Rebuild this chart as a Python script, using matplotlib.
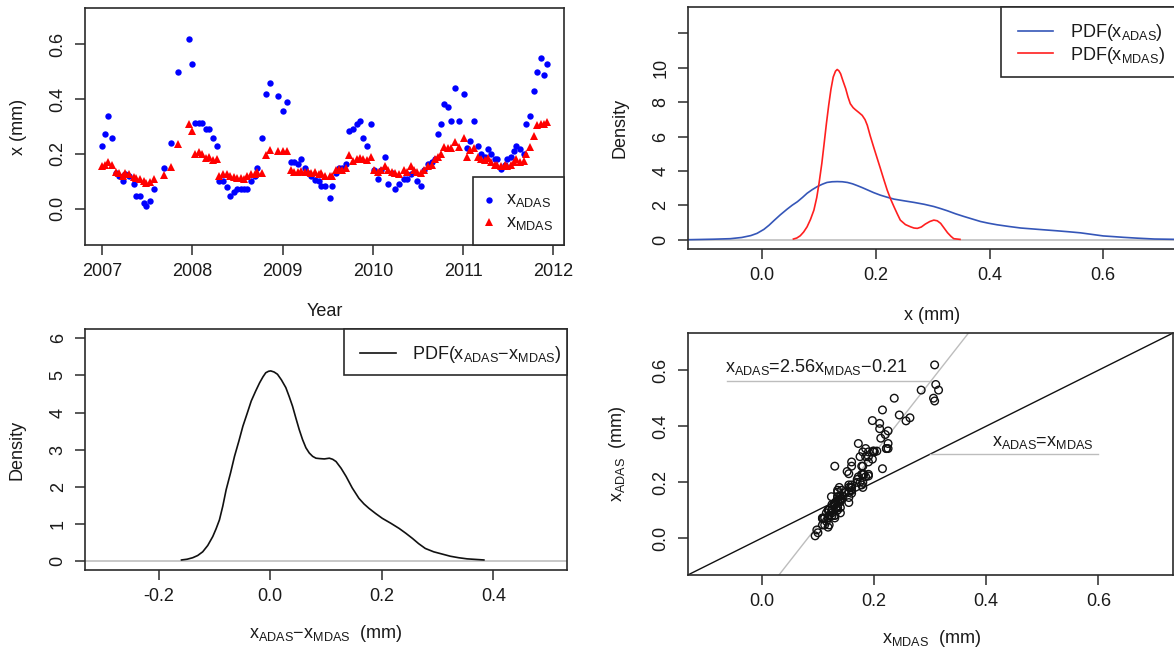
import matplotlib
matplotlib.use('Agg')
import matplotlib.pyplot as plt
from matplotlib.lines import Line2D
from matplotlib.patches import Rectangle

plt.rcParams['font.family'] = ['Liberation Sans', 'DejaVu Sans']
plt.rcParams['mathtext.fontset'] = 'custom'
plt.rcParams['mathtext.rm'] = 'Liberation Sans'
plt.rcParams['mathtext.it'] = 'Liberation Sans'
plt.rcParams['axes.unicode_minus'] = False
plt.rcParams['font.size'] = 13

# ---- time series (decimal year, ADAS, MDAS) ----
year = [2007.00, 2007.03, 2007.07, 2007.11, 2007.15, 2007.19, 2007.23, 2007.26, 2007.30, 2007.35,
        2007.38, 2007.42, 2007.46, 2007.49, 2007.53, 2007.58, 2007.69, 2007.76, 2007.84, 2007.96,
        2008.00, 2008.03, 2008.07, 2008.11, 2008.15, 2008.19, 2008.23, 2008.27, 2008.30, 2008.34,
        2008.38, 2008.42, 2008.46, 2008.50, 2008.54, 2008.57, 2008.61, 2008.65, 2008.69, 2008.72,
        2008.77, 2008.82, 2008.86, 2008.95, 2009.01, 2009.05, 2009.09, 2009.13, 2009.17, 2009.20,
        2009.25, 2009.28, 2009.32, 2009.36, 2009.40, 2009.43, 2009.47, 2009.52, 2009.55, 2009.59,
        2009.63, 2009.66, 2009.70, 2009.74, 2009.78, 2009.82, 2009.86, 2009.89, 2009.94, 2009.98,
        2010.01, 2010.06, 2010.09, 2010.13, 2010.17, 2010.21, 2010.25, 2010.29, 2010.34, 2010.38,
        2010.42, 2010.45, 2010.49, 2010.53, 2010.57, 2010.61, 2010.65, 2010.69, 2010.72, 2010.76,
        2010.79, 2010.83, 2010.87, 2010.91, 2010.95, 2011.01, 2011.04, 2011.08, 2011.12, 2011.16,
        2011.20, 2011.24, 2011.27, 2011.31, 2011.35, 2011.38, 2011.42, 2011.46, 2011.49, 2011.53,
        2011.56, 2011.59, 2011.63, 2011.67, 2011.70, 2011.74, 2011.78, 2011.82, 2011.86, 2011.90,
        2011.93]
x_adas = [0.230, 0.272, 0.338, 0.257, 0.130, 0.118, 0.100, 0.125, 0.120, 0.090,
          0.047, 0.047, 0.019, 0.008, 0.029, 0.070, 0.148, 0.238, 0.500, 0.619,
          0.529, 0.311, 0.311, 0.311, 0.291, 0.291, 0.257, 0.228, 0.100, 0.100,
          0.080, 0.047, 0.060, 0.070, 0.072, 0.072, 0.072, 0.100, 0.120, 0.147,
          0.257, 0.420, 0.458, 0.410, 0.357, 0.391, 0.171, 0.171, 0.164, 0.181,
          0.148, 0.130, 0.118, 0.106, 0.100, 0.081, 0.081, 0.039, 0.081, 0.130,
          0.150, 0.150, 0.164, 0.282, 0.291, 0.308, 0.320, 0.257, 0.228, 0.308,
          0.140, 0.109, 0.140, 0.190, 0.090, 0.130, 0.072, 0.090, 0.109, 0.109,
          0.127, 0.135, 0.100, 0.081, 0.140, 0.163, 0.170, 0.181, 0.272, 0.308,
          0.383, 0.370, 0.320, 0.440, 0.320, 0.419, 0.222, 0.248, 0.320, 0.228,
          0.199, 0.190, 0.219, 0.199, 0.180, 0.181, 0.145, 0.160, 0.181, 0.190,
          0.210, 0.228, 0.219, 0.200, 0.308, 0.338, 0.430, 0.500, 0.549, 0.490,
          0.529]
x_mdas = [0.155, 0.160, 0.172, 0.160, 0.135, 0.130, 0.120, 0.130, 0.125, 0.115,
          0.112, 0.108, 0.100, 0.095, 0.098, 0.108, 0.124, 0.152, 0.236, 0.308,
          0.284, 0.200, 0.205, 0.198, 0.185, 0.190, 0.178, 0.182, 0.118, 0.125,
          0.125, 0.120, 0.115, 0.110, 0.112, 0.108, 0.118, 0.125, 0.128, 0.135,
          0.130, 0.197, 0.215, 0.210, 0.212, 0.210, 0.142, 0.135, 0.135, 0.138,
          0.135, 0.132, 0.130, 0.132, 0.125, 0.130, 0.120, 0.118, 0.120, 0.140,
          0.145, 0.140, 0.150, 0.197, 0.175, 0.180, 0.185, 0.180, 0.178, 0.190,
          0.140, 0.135, 0.142, 0.155, 0.140, 0.135, 0.130, 0.125, 0.140, 0.135,
          0.155, 0.140, 0.135, 0.130, 0.140, 0.155, 0.160, 0.180, 0.190, 0.200,
          0.225, 0.220, 0.222, 0.245, 0.225, 0.257, 0.190, 0.215, 0.222, 0.190,
          0.180, 0.178, 0.185, 0.170, 0.160, 0.158, 0.155, 0.160, 0.155, 0.160,
          0.170, 0.180, 0.172, 0.175, 0.200, 0.225, 0.264, 0.306, 0.310, 0.308,
          0.315]

# ---- density curves ----
pdf_adas_x = [-0.131, -0.085, -0.056, -0.036, -0.020, -0.009, 0.003, 0.012, 0.021, 0.032,
              0.044, 0.053, 0.062, 0.071, 0.079, 0.088, 0.097, 0.106, 0.114, 0.123,
              0.132, 0.141, 0.150, 0.159, 0.167, 0.176, 0.185, 0.196, 0.208, 0.220,
              0.232, 0.250, 0.267, 0.285, 0.302, 0.314, 0.326, 0.340, 0.355, 0.370,
              0.384, 0.398, 0.413, 0.434, 0.455, 0.486, 0.518, 0.540, 0.560, 0.580,
              0.600, 0.618, 0.635, 0.660, 0.690, 0.730]
pdf_adas_y = [0.00, 0.03, 0.06, 0.13, 0.24, 0.37, 0.60, 0.84, 1.12, 1.45,
              1.78, 2.01, 2.21, 2.46, 2.70, 2.91, 3.09, 3.23, 3.33, 3.37,
              3.38, 3.37, 3.33, 3.25, 3.15, 3.03, 2.90, 2.74, 2.59, 2.47,
              2.36, 2.26, 2.17, 2.06, 1.93, 1.81, 1.68, 1.51, 1.35, 1.20,
              1.06, 0.96, 0.87, 0.77, 0.68, 0.60, 0.52, 0.46, 0.40, 0.31,
              0.22, 0.18, 0.14, 0.09, 0.04, 0.02]
pdf_mdas_x = [0.055, 0.061, 0.067, 0.073, 0.079, 0.085, 0.091, 0.096, 0.100, 0.105,
              0.109, 0.113, 0.117, 0.121, 0.125, 0.129, 0.132, 0.135, 0.138, 0.142,
              0.147, 0.151, 0.155, 0.160, 0.164, 0.170, 0.176, 0.181, 0.185, 0.190,
              0.196, 0.202, 0.208, 0.214, 0.220, 0.226, 0.232, 0.238, 0.243, 0.252,
              0.261, 0.267, 0.273, 0.280, 0.287, 0.295, 0.302, 0.308, 0.314, 0.320,
              0.326, 0.332, 0.337, 0.348]
pdf_mdas_y = [0.04, 0.10, 0.23, 0.45, 0.75, 1.18, 1.72, 2.45, 3.27, 4.45,
              5.59, 6.75, 7.81, 8.75, 9.46, 9.80, 9.90, 9.82, 9.65, 9.25,
              8.78, 8.30, 7.91, 7.68, 7.56, 7.40, 7.23, 6.98, 6.65, 6.05,
              5.40, 4.77, 4.14, 3.50, 2.88, 2.36, 1.91, 1.48, 1.14, 0.88,
              0.75, 0.68, 0.66, 0.74, 0.91, 1.06, 1.14, 1.10, 0.95, 0.68,
              0.41, 0.20, 0.06, 0.02]
pdf_diff_x = [-0.159, -0.149, -0.139, -0.130, -0.121, -0.112, -0.103, -0.097, -0.091, -0.085,
              -0.079, -0.071, -0.064, -0.056, -0.049, -0.041, -0.034, -0.026, -0.019, -0.013,
              -0.008, -0.003, 0.001, 0.007, 0.013, 0.020, 0.028, 0.034, 0.040, 0.046,
              0.052, 0.058, 0.064, 0.070, 0.076, 0.082, 0.088, 0.097, 0.106, 0.112,
              0.118, 0.127, 0.136, 0.147, 0.159, 0.168, 0.177, 0.189, 0.201, 0.216,
              0.231, 0.243, 0.255, 0.266, 0.278, 0.293, 0.308, 0.323, 0.338, 0.353,
              0.368, 0.383]
pdf_diff_y = [0.03, 0.05, 0.09, 0.15, 0.25, 0.42, 0.66, 0.87, 1.11, 1.48,
              1.92, 2.38, 2.82, 3.24, 3.63, 3.99, 4.31, 4.58, 4.80, 4.96,
              5.07, 5.11, 5.12, 5.09, 5.03, 4.88, 4.67, 4.43, 4.17, 3.85,
              3.54, 3.27, 3.05, 2.91, 2.82, 2.77, 2.76, 2.75, 2.77, 2.74,
              2.68, 2.50, 2.28, 1.97, 1.69, 1.54, 1.42, 1.28, 1.15, 1.02,
              0.88, 0.75, 0.61, 0.47, 0.34, 0.25, 0.19, 0.13, 0.09, 0.06,
              0.045, 0.03]

# fitted line x_ADAS = slope * x_MDAS + intercept
slope, intercept = 2.56, -0.21

W, H = 1174, 652
fig = plt.figure(figsize=(W / 100, H / 100), dpi=100)

BOX = '#2b2b2b'
GREY = '#c4c4c4'
TXT = '#1a1a1a'


def add_panel(x0, y0, x1, y1):
    ax = fig.add_axes([x0 / W, 1 - y1 / H, (x1 - x0) / W, (y1 - y0) / H])
    for s in ax.spines.values():
        s.set_color(BOX)
        s.set_linewidth(1.2)
    ax.tick_params(direction='out', length=7.2, width=1.1, color=BOX,
                   labelcolor=TXT, pad=6, labelsize=13)
    ax.tick_params(axis='y', labelrotation=90)
    return ax


def fix_ylabels(ax):
    for lab in ax.get_yticklabels():
        lab.set_va('center')


def ftext(x, y, s, **kw):
    kw.setdefault('fontsize', 13)
    kw.setdefault('color', TXT)
    fig.text(x / W, 1 - y / H, s, zorder=7, **kw)


def fbox(x0, y0, x1, y1):
    fig.add_artist(Rectangle((x0 / W, 1 - y1 / H), (x1 - x0) / W, (y1 - y0) / H,
                             transform=fig.transFigure, fc='white', ec=BOX, lw=1.2, zorder=5))


def fline(x0, x1, y, color):
    fig.add_artist(Line2D([x0 / W, x1 / W], [1 - y / H, 1 - y / H], color=color, lw=1.2,
                          transform=fig.transFigure, zorder=6))


def fmarker(x, y, **kw):
    fig.add_artist(Line2D([x / W], [1 - y / H], ls='none', transform=fig.transFigure,
                          zorder=6, **kw))


# ---- time series ----
ax1 = add_panel(85, 8.3, 564.3, 244.7)
ax1.plot(year, x_adas, 'o', color='#0000ff', ms=4.6, mew=0)
ax1.plot(year, x_mdas, '^', color='#ff0000', ms=5.4, mew=0)
ax1.set_xlim(2006.812, 2012.12)
ax1.set_ylim(-0.132, 0.732)
ax1.set_xticks(range(2007, 2013))
ax1.set_yticks([0.0, 0.2, 0.4, 0.6])
ax1.set_yticklabels(['0.0', '0.2', '0.4', '0.6'])
fix_ylabels(ax1)
ftext(324.6, 311.7, 'Year', ha='center', va='center')
ftext(18.7, 126.5, 'x (mm)', ha='center', va='center', rotation=90)
fbox(473, 177.3, 564.3, 244.7)
fmarker(488.8, 200, marker='o', color='#0000ff', ms=4.6, mew=0)
fmarker(488.8, 221.7, marker='^', color='#ff0000', ms=5.4, mew=0)
ftext(505.6, 204, r'$\mathregular{x_{ADAS}}$', ha='left', va='baseline')
ftext(505.6, 226.7, r'$\mathregular{x_{MDAS}}$', ha='left', va='baseline')

# ---- densities of ADAS and MDAS ----
ax2 = add_panel(687.7, 6.7, 1176, 249)
ax2.axhline(0, color=GREY, lw=1.3)
ax2.plot(pdf_adas_x, pdf_adas_y, color='#3556b8', lw=1.2)
ax2.plot(pdf_mdas_x, pdf_mdas_y, color='#ff1f1f', lw=1.2)
ax2.set_xlim(-0.131, 0.728)
ax2.set_ylim(-0.54, 13.55)
ax2.set_xticks([0.0, 0.2, 0.4, 0.6])
ax2.set_xticklabels(['0.0', '0.2', '0.4', '0.6'])
ax2.set_yticks(range(0, 13, 2))
ax2.set_yticklabels(['0', '2', '4', '6', '8', '10', ''])
fix_ylabels(ax2)
ftext(931.9, 315, 'x (mm)', ha='center', va='center')
ftext(619.9, 127.9, 'Density', ha='center', va='center', rotation=90)
fbox(1001.2, 6.7, 1180, 77)
fline(1018, 1052.7, 30.7, '#3556b8')
fline(1018, 1052.7, 53.3, '#ff1f1f')
ftext(1070.2, 36.7, r'PDF($\mathregular{x_{ADAS}}$)', ha='left', va='baseline')
ftext(1070.2, 60, r'PDF($\mathregular{x_{MDAS}}$)', ha='left', va='baseline')

# ---- density of the difference ----
ax3 = add_panel(85, 329.3, 567, 570)
ax3.axhline(0, color=GREY, lw=1.3)
ax3.plot(pdf_diff_x, pdf_diff_y, color='#111111', lw=1.2)
ax3.set_xlim(-0.332, 0.532)
ax3.set_ylim(-0.24, 6.24)
ax3.set_xticks([-0.2, 0.0, 0.2, 0.4])
ax3.set_xticklabels(['-0.2', '0.0', '0.2', '0.4'])
ax3.set_yticks(range(0, 7))
fix_ylabels(ax3)
ftext(326, 633.3, r'$\mathregular{x_{ADAS}}$−$\mathregular{x_{MDAS}}$  (mm)', ha='center', va='center')
ftext(16.8, 449.7, 'Density', ha='center', va='center', rotation=90)
fbox(344, 329.3, 567, 375)
fline(360, 395.5, 353.3, '#111111')
ftext(412.3, 359.3, r'PDF($\mathregular{x_{ADAS}}$−$\mathregular{x_{MDAS}}$)', ha='left', va='baseline')

# ---- ADAS vs MDAS ----
ax4 = add_panel(687.8, 333.3, 1172.5, 575)
ax4.scatter(x_mdas, x_adas, s=30, facecolors='none', edgecolors='#111111', linewidths=1.0, zorder=3)
ax4.axline((0, intercept), slope=slope, color='#bdbdbd', lw=1.0, zorder=2)
ax4.axline((0, 0), slope=1, color='#111111', lw=1.0, zorder=2)
ax4.set_xlim(-0.132, 0.732)
ax4.set_ylim(-0.132, 0.732)
ax4.set_xticks([0.0, 0.2, 0.4, 0.6])
ax4.set_xticklabels(['0.0', '0.2', '0.4', '0.6'])
ax4.set_yticks([0.0, 0.2, 0.4, 0.6])
ax4.set_yticklabels(['0.0', '0.2', '0.4', '0.6'])
fix_ylabels(ax4)

# leader lines to the two annotations
y_fit_lab = 0.563
ax4.plot([-0.062, (y_fit_lab - intercept) / slope], [y_fit_lab, y_fit_lab], color='#bdbdbd', lw=1.0)
ax4.plot([0.3, 0.6], [0.3, 0.3], color='#bdbdbd', lw=1.0)
ax4.text(-0.066, y_fit_lab + 0.012,
         r'$\mathregular{x_{ADAS}}$=2.56$\mathregular{x_{MDAS}}$−0.21',
         ha='left', va='bottom', fontsize=13, color=TXT)
ax4.text(0.592, 0.312, r'$\mathregular{x_{ADAS}}$=$\mathregular{x_{MDAS}}$',
         ha='right', va='bottom', fontsize=13, color=TXT)
ftext(931.4, 638.3, r'$\mathregular{x_{MDAS}}$  (mm)', ha='center', va='center')
ftext(618, 454, r'$\mathregular{x_{ADAS}}$  (mm)', ha='center', va='center', rotation=90)

fig.savefig('out.png', dpi=100, facecolor='white')
